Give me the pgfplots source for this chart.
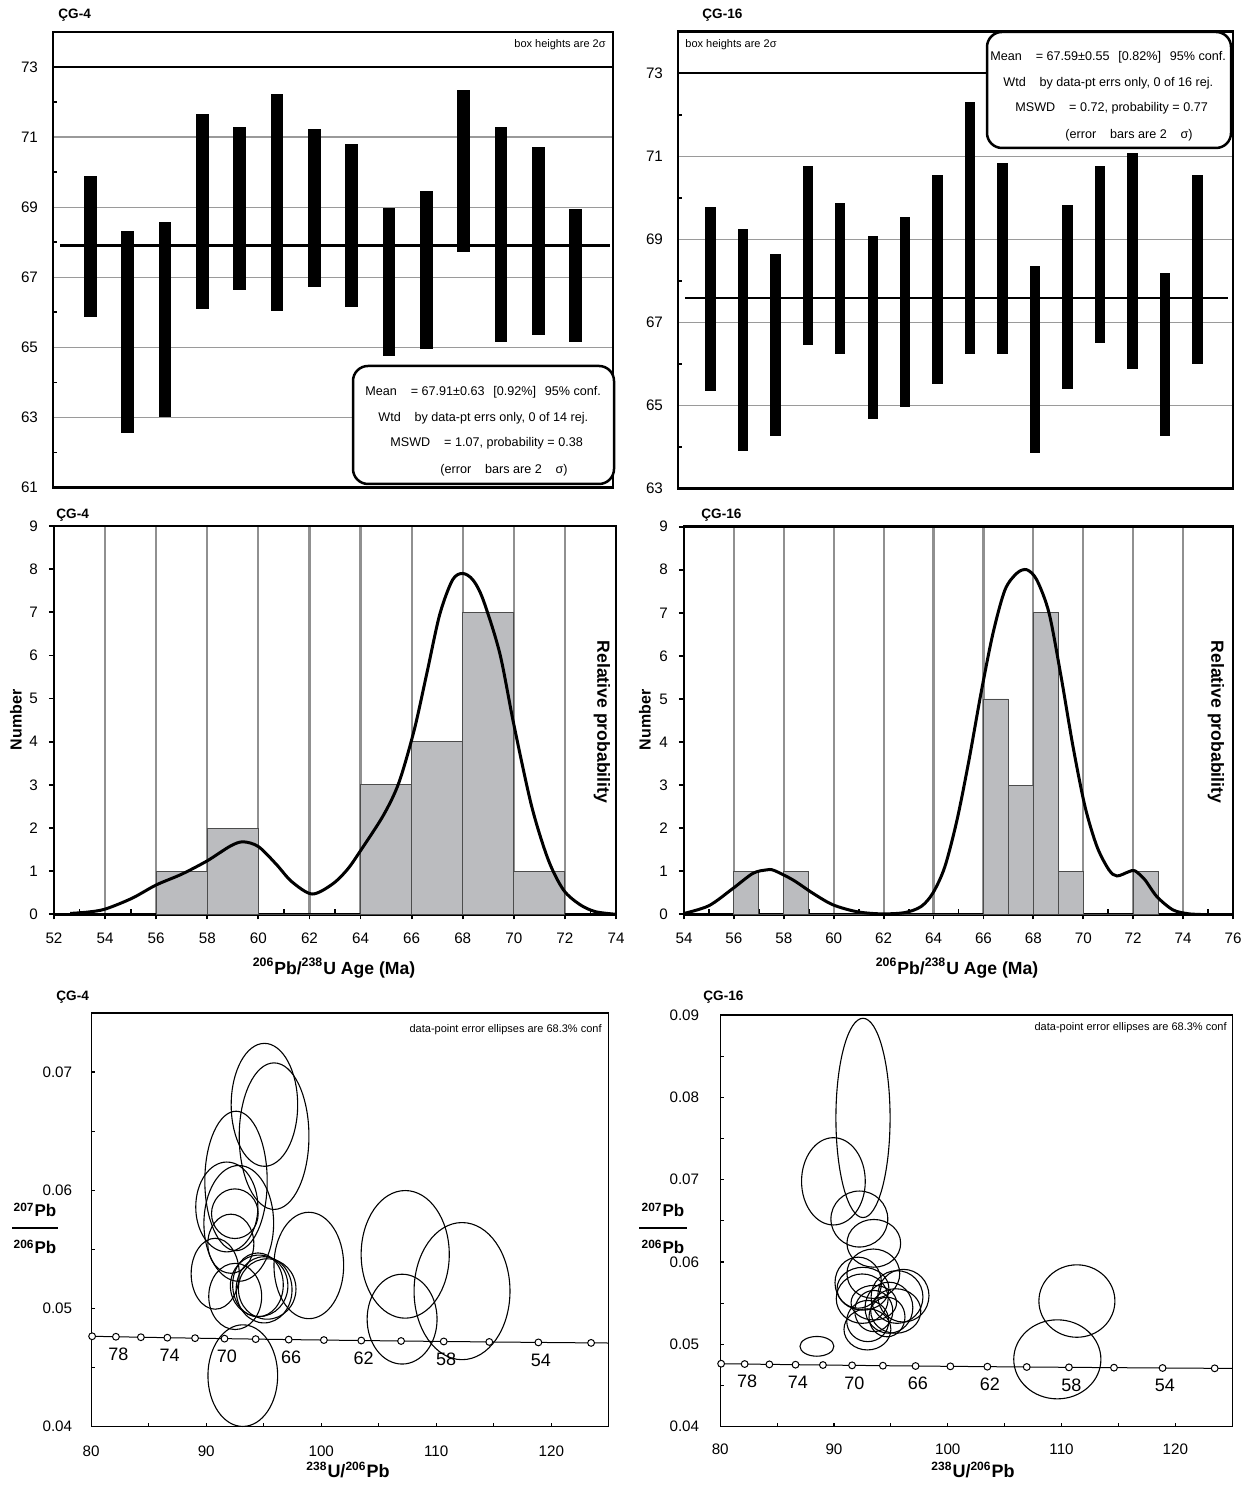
\documentclass[border=0pt]{standalone}
\usepackage{pgfplots}
\pgfplotsset{compat=1.18}
\usepackage{pgfplotstable}
\usepackage{fontspec}
\setmainfont{Liberation Sans}

\definecolor{histfill}{HTML}{BBBCBF}
\definecolor{gridgray}{HTML}{909090}
\definecolor{lightgrid}{HTML}{9A9A9A}

\newcommand{\tkf}{\fontsize{7.6}{9}\selectfont}
\newcommand{\boxf}{\fontsize{6.3}{7.5}\selectfont}
\newcommand{\smf}{\fontsize{5.5}{6.5}\selectfont}
\newcommand{\ttf}{\fontsize{6.8}{8}\selectfont\bfseries}
\newcommand{\lbf}{\fontsize{8.8}{10}\selectfont\bfseries}
\newcommand{\numf}{\fontsize{8}{9.5}\selectfont\bfseries}
\newcommand{\frf}{\fontsize{8.5}{10}\selectfont\bfseries}
\newcommand{\tlf}{\fontsize{9}{10}\selectfont\bfseries}
\newcommand{\clf}{\fontsize{9}{10}\selectfont}

\pgfdeclareplotmark{ellip}{%
  \pgfpathellipse{\pgfpointorigin}{\pgfpoint{\rxp}{0pt}}{\pgfpoint{0pt}{\ryp}}%
  \pgfusepathqstroke}

% ---- weighted-mean boxes (2 sigma) ----
\pgfplotstableread{
x lo hi
1 65.87 69.89
2 62.56 68.32
3 63.00 68.58
4 66.09 71.65
5 66.64 71.29
6 66.03 72.23
7 66.73 71.24
8 66.15 70.79
9 64.74 68.99
10 64.96 69.47
11 67.71 72.34
12 65.16 71.29
13 65.35 70.72
14 65.16 68.96
}\boxA
\pgfplotstableread{
x lo hi
1 65.35 69.78
2 63.91 69.25
3 64.27 68.64
4 66.45 70.76
5 66.23 69.87
6 64.68 69.09
7 64.96 69.55
8 65.53 70.55
9 66.25 72.30
10 66.25 70.84
11 63.87 68.37
12 65.40 69.83
13 66.51 70.76
14 65.88 71.08
15 64.27 68.20
16 65.99 70.55
}\boxB

% ---- error ellipses: centre, radii in pt ----
\pgfplotstableread{
cx cy rxp ryp
95.06 0.06723 16.62 30.73
95.90 0.06458 17.43 36.64
92.59 0.06079 15.59 34.87
91.79 0.05859 15.53 22.46
92.83 0.05720 17.43 28.96
92.49 0.05802 11.67 12.41
92.14 0.05548 11.50 14.78
90.78 0.05294 12.02 17.73
92.52 0.05102 13.23 16.55
94.60 0.05192 14.38 15.37
95.03 0.05158 13.98 16.55
94.50 0.05200 12.65 15.96
95.30 0.05165 14.40 15.10
98.92 0.05364 17.43 26.60
107.30 0.05458 22.03 31.91
107.03 0.04910 17.48 22.46
112.24 0.05147 23.98 34.28
93.18 0.04432 17.43 25.41
}\ellA
\pgfplotstableread{
cx cy rxp ryp
92.55 0.07750 13.54 49.82
89.95 0.06980 15.93 21.82
92.23 0.06522 14.22 14.00
93.50 0.06227 13.43 11.94
93.46 0.05858 13.20 12.35
92.13 0.05749 11.61 12.76
92.55 0.05676 12.97 10.70
92.48 0.05555 12.97 12.35
93.50 0.05506 11.38 8.65
93.50 0.05405 9.50 10.29
92.94 0.05182 11.72 10.29
92.97 0.05283 10.52 10.29
95.43 0.05405 12.52 11.12
95.54 0.05575 12.97 13.17
96.10 0.05591 12.80 13.17
94.83 0.05445 11.95 12.76
94.66 0.05332 8.99 9.88
88.50 0.04976 8.48 4.94
109.63 0.04818 21.79 19.76
111.35 0.05526 19.00 18.11
}\ellB

% ---- concordia (2 Ma steps, 80 to 52 Ma) ----
\pgfplotstableread{
x y
80.08 0.04765
82.15 0.04761
84.32 0.04757
86.62 0.04753
89.03 0.04749
91.59 0.04745
94.30 0.04741
97.17 0.04737
100.23 0.04733
103.48 0.04729
106.94 0.04725
110.65 0.04721
114.61 0.04717
118.88 0.04713
123.46 0.04709
}\conc
\pgfplotstableread{
x y lab
82.15 0.04761 78
86.62 0.04753 74
91.59 0.04745 70
97.17 0.04737 66
103.48 0.04729 62
110.65 0.04721 58
118.88 0.04713 54
}\conclab

\pgfplotsset{
  wm/.style={anchor=south west, scale only axis, xtick=\empty,
    ymajorgrids, grid style={lightgrid, line width=0.6pt},
    ytick pos=left, major tick length=0pt, minor tick length=2pt,
    tick style={black, line width=0.8pt},
    axis line style={line width=1.35pt},
    ticklabel style={font=\tkf}, /pgf/number format/assume math mode=true,
    yticklabel style={xshift=-4pt}},
  hist/.style={anchor=south west, scale only axis, ymin=0, ymax=9, ytick={0,1,...,9},
    xmajorgrids, grid style={gridgray, line width=1.1pt},
    extra x tick labels={}, extra x tick style={grid=none, major tick length=2.6pt, tick align=inside},
    tick pos=left, tick align=outside, major tick length=2.6pt,
    tick style={black, line width=0.9pt},
    axis line style={line width=1.35pt},
    ticklabel style={font=\tkf}, /pgf/number format/assume math mode=true,
    xticklabel style={yshift=-3pt}, yticklabel style={xshift=-2pt}},
  tw/.style={anchor=south west, scale only axis, xmin=80, xmax=125, ymin=0.04,
    xtick={80,90,...,120}, minor xtick={85,95,...,115},
    scaled y ticks=false, scaled x ticks=false,
    tick pos=left, tick align=inside, major tick length=1.8pt, minor tick length=1.8pt,
    tick style={black, line width=0.6pt}, axis line style={line width=0.65pt},
    ticklabel style={font=\tkf}, /pgf/number format/assume math mode=true,
    xticklabel style={yshift=-6pt}, yticklabel style={xshift=-6pt}},
  ell/.style={scatter, only marks, mark=ellip, line width=0.55pt,
    scatter/use mapped color={draw=black, fill=none},
    visualization depends on={\thisrow{rxp}\as\rxp},
    visualization depends on={\thisrow{ryp}\as\ryp}},
  cline/.style={black, line width=0.5pt, mark=none},
  cmark/.style={only marks, mark=*, mark size=1.7pt, mark options={fill=white, draw=black, line width=0.5pt}},
  clab/.style={only marks, mark=none, nodes near coords, point meta=explicit symbolic,
    every node near coord/.append style={font=\clf, black, yshift=-15.5pt, xshift=1.2pt}}
}

\begin{document}
\begin{tikzpicture}
\path[use as bounding box] (0,0) rectangle (625pt,746pt);

% ================= Panel 1 =================
\begin{axis}[wm, at={(26.5pt,502.25pt)}, width=280pt, height=227.75pt,
  xmin=0, xmax=15, ymin=61, ymax=74, ytick={61,63,...,73}, minor ytick={62,64,...,72}]
\addplot[only marks, mark=none,
    error bars/.cd, y dir=both, y explicit, error mark=none,
    error bar style={draw=black, line width=6.2pt}]
  table[x=x, y expr=(\thisrow{lo}+\thisrow{hi})/2, y error expr=(\thisrow{hi}-\thisrow{lo})/2]{\boxA};
\addplot[black, line width=1.15pt] coordinates {(0,73) (15,73)};
\addplot[black, line width=1.35pt] coordinates {(0.19,67.91) (14.91,67.91)};
\end{axis}

% ================= Panel 2 =================
\begin{axis}[wm, at={(339pt,501.65pt)}, width=277.5pt, height=228.5pt,
  xmin=0, xmax=17.1, ymin=63, ymax=74, ytick={63,65,...,73}, minor ytick={64,66,...,72}]
\addplot[only marks, mark=none,
    error bars/.cd, y dir=both, y explicit, error mark=none,
    error bar style={draw=black, line width=5.2pt}]
  table[x=x, y expr=(\thisrow{lo}+\thisrow{hi})/2, y error expr=(\thisrow{hi}-\thisrow{lo})/2]{\boxB};
\addplot[black, line width=1.15pt] coordinates {(0,73) (17.1,73)};
\addplot[black, line width=1.35pt] coordinates {(0.22,67.59) (16.94,67.59)};
\end{axis}

% ================= Panel 3 =================
\begin{axis}[hist, at={(27pt,288.85pt)}, width=281pt, height=194.15pt,
  xmin=52, xmax=74, xtick={52,54,...,74}, extra x ticks={53,55,...,73}]
\addplot[ybar interval, fill=histfill, draw=black!70, line width=0.45pt]
  coordinates {(56,1) (58,2) (60,0) (64,3) (66,4) (68,7) (70,1) (72,0)};
\addplot[black, line width=1.5pt, smooth] coordinates {
(52.63,0.02) (53.3,0.05) (54,0.12) (55.05,0.37) (56,0.68) (57,0.93) (58,1.24)
(58.9,1.58) (59.4,1.68) (60,1.57) (60.7,1.16) (61.3,0.76) (62.1,0.47) (62.9,0.70)
(63.5,1.05) (64.05,1.52) (64.9,2.30) (65.5,3.05) (66.1,4.27) (66.6,5.6) (67.1,6.95)
(67.6,7.75) (68.0,7.9) (68.4,7.75) (68.8,7.29) (69.45,6.05) (70.0,4.4) (70.7,2.5)
(71.35,1.26) (71.95,0.56) (72.6,0.22) (73.2,0.06) (74,0.0)};
\end{axis}

% ================= Panel 4 =================
\begin{axis}[hist, at={(342pt,288.85pt)}, width=274.5pt, height=193.8pt,
  xmin=54, xmax=76, xtick={54,56,...,76}, extra x ticks={55,57,...,75}]
\addplot[ybar interval, fill=histfill, draw=black!70, line width=0.45pt]
  coordinates {(56,1) (57,0) (58,1) (59,0) (66,5) (67,3) (68,7) (69,1) (70,0) (72,1) (73,0)};
\addplot[black, line width=1.5pt, smooth] coordinates {
(54.0,0.02) (55.0,0.2) (55.96,0.6) (56.76,0.95) (57.3,1.03) (57.6,1.02) (58.36,0.8)
(59.16,0.49) (59.97,0.22) (60.93,0.06) (61.9,0.01) (62.85,0.04) (63.5,0.18) (63.97,0.49)
(64.45,1.1) (64.94,2.19) (65.42,3.58) (65.9,5.13) (66.38,6.52) (66.86,7.53) (67.34,7.92)
(67.74,8.0) (68.14,7.76) (68.63,6.99) (69.11,5.52) (69.59,3.89) (70.07,2.5) (70.55,1.57)
(71.03,1.03) (71.35,0.89) (71.83,0.99) (72.07,1.01) (72.47,0.8) (72.95,0.41) (73.6,0.1)
(74.24,0.01) (74.7,0.0)};
\end{axis}

% ================= Panel 5 =================
\begin{axis}[tw, at={(45.6pt,32.65pt)}, width=258.8pt, height=206.85pt, ymax=0.075,
  ytick={0.04,0.05,0.06,0.07}, yticklabels={0.04,0.05,0.06,0.07},
  minor ytick={0.045,0.055,0.065}]
\addplot[ell] table[x=cx, y=cy]{\ellA};
\addplot[cline] table[x=x, y=y]{\conc};
\addplot[cline] coordinates {(123.46,0.04709) (125,0.04708)};
\addplot[cmark] table[x=x, y=y]{\conc};
\addplot[clab] table[x=x, y=y, meta=lab]{\conclab};
\end{axis}

% ================= Panel 6 =================
\begin{axis}[tw, at={(360.1pt,32.65pt)}, width=256pt, height=205.85pt, ymax=0.09,
  ytick={0.04,0.05,0.06,0.07,0.08,0.09}, yticklabels={0.04,0.05,0.06,0.07,0.08,0.09},
  minor ytick={0.045,0.055,0.065,0.075,0.085}, xticklabel style={yshift=1pt}, yticklabel style={xshift=-1pt}]
\addplot[ell] table[x=cx, y=cy]{\ellB};
\addplot[cline] table[x=x, y=y]{\conc};
\addplot[cline] coordinates {(123.46,0.04709) (125,0.04708)};
\addplot[cmark] table[x=x, y=y]{\conc};
\addplot[clab] table[x=x, y=y, meta=lab]{\conclab};
\end{axis}

% ---------- annotations ----------
\tikzset{t/.style={inner sep=0pt}}
% titles
\node[t, anchor=west, font=\ttf] at (29pt,738.5pt) {ÇG-4};
\node[t, anchor=west, font=\ttf] at (351pt,738.5pt) {ÇG-16};
\node[t, anchor=west, font=\ttf] at (28pt,488.5pt) {ÇG-4};
\node[t, anchor=west, font=\ttf] at (350.5pt,488.5pt) {ÇG-16};
\node[t, anchor=west, font=\ttf] at (28pt,247.6pt) {ÇG-4};
\node[t, anchor=west, font=\ttf] at (351.5pt,247.6pt) {ÇG-16};

% box heights
\node[t, anchor=east, font=\smf] at (303pt,723.5pt) {box heights are 2σ};
\node[t, anchor=west, font=\smf] at (342.5pt,723.5pt) {box heights are 2σ};

% result boxes
\draw[line width=1.25pt, rounded corners=7.5pt, fill=white] (176.5pt,504pt) rectangle (307pt,563pt);
\node[t, anchor=west, font=\boxf] at (182.5pt,550pt) {Mean\hspace{1.1em}= 67.91±0.63\hspace{0.7em}[0.92\%]\hspace{0.7em}95\% conf.};
\node[t, anchor=west, font=\boxf] at (189pt,537pt) {Wtd\hspace{1.1em}by data-pt errs only, 0 of 14 rej.};
\node[t, anchor=west, font=\boxf] at (195pt,524.5pt) {MSWD\hspace{1.1em}= 1.07, probability = 0.38};
\node[t, anchor=west, font=\boxf] at (220pt,511pt) {(error\hspace{1.1em}bars are 2\hspace{1.1em}σ)};

\draw[line width=1.25pt, rounded corners=7.5pt, fill=white] (493.5pt,672pt) rectangle (615.5pt,730pt);
\node[t, anchor=west, font=\boxf] at (495pt,717.5pt) {Mean\hspace{1.1em}= 67.59±0.55\hspace{0.7em}[0.82\%]\hspace{0.7em}95\% conf.};
\node[t, anchor=west, font=\boxf] at (501.5pt,704.5pt) {Wtd\hspace{1.1em}by data-pt errs only, 0 of 16 rej.};
\node[t, anchor=west, font=\boxf] at (507.5pt,692pt) {MSWD\hspace{1.1em}= 0.72, probability = 0.77};
\node[t, anchor=west, font=\boxf] at (532.5pt,678.5pt) {(error\hspace{1.1em}bars are 2\hspace{1.1em}σ)};

% histogram labels
\node[t, rotate=90, font=\numf] at (8pt,386pt) {Number};
\node[t, rotate=-90, font=\lbf] at (301pt,385pt) {Relative probability};
\node[t, font=\lbf] at (167pt,262pt) {\textsuperscript{206}Pb/\textsuperscript{238}U Age (Ma)};
\node[t, rotate=90, font=\numf] at (322.5pt,386pt) {Number};
\node[t, rotate=-90, font=\lbf] at (608pt,385pt) {Relative probability};
\node[t, font=\lbf] at (478.5pt,262pt) {\textsuperscript{206}Pb/\textsuperscript{238}U Age (Ma)};

% Tera-Wasserburg labels
\node[t, anchor=east, font=\smf] at (301pt,231pt) {data-point error ellipses are 68.3\% conf};
\node[t, anchor=east, font=\smf] at (613.5pt,232pt) {data-point error ellipses are 68.3\% conf};
\node[t, font=\tlf] at (174pt,11pt) {\textsuperscript{238}U/\textsuperscript{206}Pb};
\node[t, font=\tlf] at (486.5pt,11pt) {\textsuperscript{238}U/\textsuperscript{206}Pb};
\node[t, font=\frf] at (17.5pt,141pt) {\textsuperscript{207}Pb};
\draw[line width=0.6pt] (6pt,132pt) -- (29pt,132pt);
\node[t, font=\frf] at (17.5pt,122.5pt) {\textsuperscript{206}Pb};
\node[t, font=\frf] at (331.5pt,141pt) {\textsuperscript{207}Pb};
\draw[line width=0.6pt] (319.5pt,132pt) -- (343.5pt,132pt);
\node[t, font=\frf] at (331.5pt,122.5pt) {\textsuperscript{206}Pb};
\end{tikzpicture}
\end{document}
